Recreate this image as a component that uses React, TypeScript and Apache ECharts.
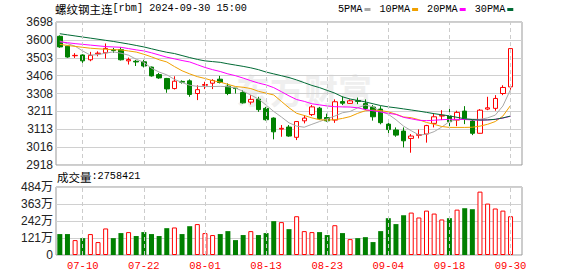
import React, { useEffect, useRef } from 'react';
import * as echarts from 'echarts';

const dates = ['07-05','07-08','07-09','07-10','07-11','07-12','07-15','07-16','07-17','07-18','07-19','07-22','07-23','07-24','07-25','07-26','07-29','07-30','07-31','08-01','08-02','08-05','08-06','08-07','08-08','08-09','08-12','08-13','08-14','08-15','08-16','08-19','08-20','08-21','08-22','08-23','08-26','08-27','08-28','08-29','08-30','09-02','09-03','09-04','09-05','09-06','09-09','09-10','09-11','09-12','09-13','09-18','09-19','09-20','09-23','09-24','09-25','09-26','09-27','09-30'];
const labelDates = ['07-10','07-22','08-01','08-13','08-23','09-04','09-18','09-30'];

const opens = [3620,3566,3514,3518,3492,3524,3530,3546,3547,3486,3484,3481,3452,3411,3390,3335,3374,3377,3308,3353,3364,3386,3348,3337,3313,3261,3277,3227,3174,3114,3125,3069,3159,3193,3228,3177,3163,3264,3254,3269,3253,3234,3223,3141,3109,3103,3063,3080,3087,3145,3185,3185,3163,3212,3158,3091,3223,3227,3308,3344];
const closes = [3562,3507,3516,3486,3516,3528,3554,3543,3492,3493,3480,3458,3404,3393,3333,3375,3370,3303,3329,3357,3379,3368,3308,3335,3257,3276,3220,3165,3099,3118,3076,3155,3174,3235,3171,3159,3263,3255,3268,3265,3226,3181,3149,3111,3081,3050,3076,3084,3133,3181,3189,3154,3205,3171,3091,3217,3230,3281,3341,3553];
const lows = [3557,3503,3502,3475,3484,3511,3498,3530,3488,3466,3458,3450,3400,3388,3312,3330,3362,3290,3272,3332,3332,3363,3299,3308,3253,3248,3208,3160,3058,3072,3072,3054,3145,3185,3165,3154,3148,3245,3252,3250,3218,3160,3140,3091,3072,3014,2985,3063,3040,3123,3163,3123,3130,3141,3081,3090,3217,3214,3299,3326];
const highs = [3625,3568,3528,3522,3535,3538,3581,3557,3560,3504,3491,3492,3455,3420,3393,3402,3380,3385,3353,3372,3386,3404,3363,3338,3326,3299,3290,3235,3178,3136,3136,3158,3190,3245,3235,3198,3276,3292,3276,3286,3276,3245,3239,3154,3123,3123,3087,3112,3137,3196,3217,3234,3214,3239,3167,3223,3290,3299,3353,3553];

const volumes = [1490000,1490000,1060000,1200000,1490000,920000,1890000,1200000,1560000,1630000,1350000,1630000,1490000,1350000,1910000,1960000,1490000,2050000,2200000,1560000,1420000,1490000,1700000,1060000,1420000,1700000,1420000,1560000,2410000,2340000,1840000,2760000,1700000,1630000,1630000,1420000,2120000,1560000,1130000,1200000,1270000,920000,1700000,2620000,2200000,2830000,3020000,2670000,3160000,2950000,2530000,2620000,3230000,3330000,3260000,4510000,3660000,3310000,3160000,2758421];

const ma5 = [3594,3580,3566,3540,3517,3520,3528,3535,3528,3517,3495,3478,3446,3425,3410,3385,3368,3353,3347,3346,3346,3347,3345,3338,3320,3300,3278,3245,3210,3180,3148,3130,3124,3140,3155,3170,3185,3203,3210,3230,3245,3235,3210,3195,3165,3130,3105,3082,3085,3100,3125,3155,3165,3168,3168,3167,3175,3190,3240,3330];
const ma10 = [3576,3570,3565,3560,3555,3552,3549,3547,3546,3540,3534,3522,3508,3492,3480,3455,3432,3415,3400,3390,3378,3370,3358,3346,3342,3335,3320,3310,3300,3265,3230,3200,3188,3175,3165,3163,3165,3172,3182,3200,3214,3217,3215,3208,3195,3180,3176,3165,3150,3140,3128,3123,3123,3123,3124,3130,3140,3155,3185,3243];
const ma20 = [3590,3585,3580,3576,3572,3568,3564,3562,3560,3553,3546,3540,3530,3518,3506,3497,3488,3480,3465,3450,3438,3428,3415,3405,3392,3378,3365,3355,3340,3318,3295,3275,3265,3252,3246,3240,3236,3235,3234,3230,3220,3214,3207,3200,3194,3178,3170,3162,3160,3162,3165,3167,3167,3166,3164,3163,3164,3167,3174,3184];
const ma30 = [3634,3628,3622,3616,3610,3604,3598,3592,3585,3578,3570,3562,3552,3542,3533,3526,3515,3504,3494,3486,3482,3478,3470,3463,3456,3448,3438,3425,3415,3405,3395,3382,3367,3352,3340,3325,3310,3290,3278,3270,3262,3252,3242,3235,3230,3224,3218,3212,3205,3198,3192,3186,3178,3170,3166,3163,3164,3167,3175,3185];

const priceTicks = ['2918','3016','3113','3211','3308','3406','3503','3600','3698'];
const volTicks = ['0','121万','242万','363万','484万'];
const maNames = ['5PMA','10PMA','20PMA','30PMA'];
const maColors = ['#a8a8a8','#f0a000','#ff00ff','#006a35'];

export default function App() {
  const ref = useRef<HTMLDivElement>(null);
  useEffect(() => {
    const chart = echarts.init(ref.current!, null, { renderer: 'svg' });
    const RED = '#ff0000';
    const GREEN = '#008000';
    const mono = "'Liberation Mono', 'Noto Sans CJK SC', monospace";
    const cjk = "'Noto Sans CJK SC', sans-serif";
    const sans = "'Liberation Sans', 'Noto Sans CJK SC', sans-serif";
    const monoSize = 10.2;
    const charW = monoSize * 0.6;
    const cats = [...dates, ''];
    const pad = (a: any[]) => [...a, '-'];
    const candle = dates.map((_, i) => [opens[i], closes[i], lows[i], highs[i]]);
    const isUp = (i: number) => closes[i] >= opens[i];
    const vol = volumes.map((v, i) => ({
      value: v,
      itemStyle: isUp(i)
        ? { color: '#ffffff', borderColor: RED, borderWidth: 1 }
        : { color: GREEN, borderColor: GREEN, borderWidth: 0 },
    }));
    const vLines = (xi: number, yi: number, data: any[]) => ({
      type: 'line',
      name: '',
      xAxisIndex: xi,
      yAxisIndex: yi,
      data: pad(data),
      showSymbol: false,
      symbol: 'none',
      silent: true,
      lineStyle: { opacity: 0 },
      z: 1,
      markLine: {
        silent: true,
        symbol: ['none', 'none'],
        label: { show: false },
        lineStyle: { type: [4, 3], color: '#cccccc', width: 1 },
        data: labelDates.map((d) => ({ xAxis: d })),
      },
    });

    // legend drawn as text followed by a small colour swatch
    const legendEls: any[] = [];
    let lx = 338;
    maNames.forEach((n, k) => {
      const w = n.length * charW;
      legendEls.push({
        type: 'text', x: lx, y: 9,
        style: { text: n, font: `${monoSize}px ${mono}`, fill: '#000', verticalAlign: 'middle' },
      });
      legendEls.push({
        type: 'rect', shape: { x: lx + w + 2, y: 8, width: 6, height: 3 },
        style: { fill: maColors[k] },
      });
      lx += w + 2 + 6 + 9;
    });

    const option: any = {
      animation: false,
      backgroundColor: '#ffffff',
      title: {
        text: '{c|螺纹钢主连}{a|[rbm] 2024-09-30 15:00}',
        left: 55,
        top: 3,
        padding: 0,
        textStyle: {
          fontWeight: 'normal',
          rich: {
            c: { fontSize: 11.5, fontFamily: cjk, color: '#000', fontWeight: 'normal' },
            a: { fontSize: monoSize, fontFamily: mono, color: '#000', fontWeight: 'normal' },
          },
        },
      },
      graphic: [
        {
          type: 'text',
          left: 57,
          top: 171,
          style: {
            text: '{c|成交量}{a|:2758421}',
            rich: {
              c: { fontSize: 11.5, fontFamily: cjk, fill: '#000' },
              a: { fontSize: monoSize, fontFamily: mono, fill: '#000' },
            },
          },
        },
        {
          type: 'text',
          left: 236,
          top: 72,
          z: -10,
          style: { text: '东方财富', font: `bold 34px 'Noto Sans CJK SC'`, fill: '#efefef' },
        },
        ...legendEls,
      ],
      grid: [
        { left: 56, top: 22, width: 466, height: 143, show: true, borderColor: '#999', borderWidth: 1 },
        { left: 56, top: 187, width: 466, height: 68, show: true, borderColor: '#999', borderWidth: 1 },
      ],
      xAxis: [
        {
          type: 'category', gridIndex: 0, data: cats, boundaryGap: true,
          axisLine: { show: false }, axisTick: { show: false }, axisLabel: { show: false }, splitLine: { show: false },
        },
        {
          type: 'category', gridIndex: 1, data: cats, boundaryGap: true,
          axisLine: { show: false }, axisTick: { show: false }, splitLine: { show: false },
          axisLabel: {
            show: true,
            interval: (_i: number, v: string) => labelDates.includes(v),
            color: RED, fontFamily: mono, fontSize: 10.5, margin: 6,
          },
        },
      ],
      yAxis: [
        {
          type: 'value', gridIndex: 0, min: 2918, max: 3698, interval: 97.5,
          axisLine: { show: false }, axisTick: { show: false },
          axisLabel: {
            formatter: (v: number) => priceTicks[Math.round((v - 2918) / 97.5)] ?? '',
            color: '#222', fontSize: 12, margin: 3, fontFamily: sans,
          },
          splitLine: { lineStyle: { color: '#d0d0d0', width: 1 } },
        },
        {
          type: 'value', gridIndex: 1, min: 0, max: 4840000, interval: 1210000,
          axisLine: { show: false }, axisTick: { show: false },
          axisLabel: {
            formatter: (v: number) => volTicks[Math.round(v / 1210000)] ?? '',
            color: '#222', fontSize: 12, margin: 3, fontFamily: sans,
          },
          splitLine: { lineStyle: { color: '#d0d0d0', width: 1 } },
        },
      ],
      series: [
        vLines(0, 0, closes),
        vLines(1, 1, volumes),
        {
          type: 'candlestick',
          name: 'K',
          xAxisIndex: 0,
          yAxisIndex: 0,
          data: pad(candle),
          barWidth: 5,
          z: 3,
          itemStyle: { color: '#ffffff', color0: GREEN, borderColor: RED, borderColor0: GREEN, borderWidth: 1 },
        },
        ...[ma5, ma10, ma20, ma30].map((d, k) => ({
          type: 'line',
          name: maNames[k],
          xAxisIndex: 0,
          yAxisIndex: 0,
          data: pad(d),
          showSymbol: false,
          symbol: 'none',
          color: maColors[k],
          lineStyle: { width: 1, color: maColors[k] },
          z: 4,
        })),
        {
          type: 'bar',
          name: 'VOL',
          xAxisIndex: 1,
          yAxisIndex: 1,
          data: pad(vol),
          barWidth: 5,
          z: 3,
        },
      ],
    };
    chart.setOption(option);
    return () => chart.dispose();
  }, []);
  return <div ref={ref} style={{ position: 'fixed', left: 0, top: 0, width: 578, height: 276 }} />;
}
